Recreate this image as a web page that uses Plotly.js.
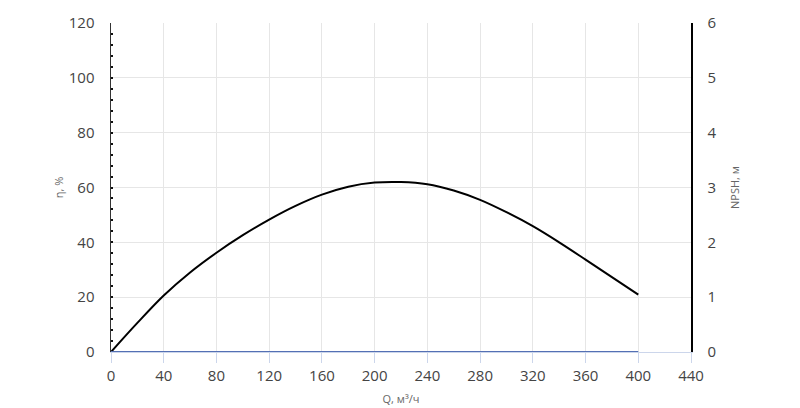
<!DOCTYPE html>
<html>
<head>
<meta charset="utf-8">
<script src="https://cdn.plot.ly/plotly-3.0.1.min.js"></script>
<style>html,body{margin:0;padding:0;background:#fff}#chart{width:800px;height:408px}</style>
</head>
<body>
<div id="chart"></div>
<script>
const flowQ = [0, 20, 40, 60, 80, 100, 120, 140, 160, 180, 200, 220, 240, 260, 280, 300, 320, 340, 360, 380, 400];
const efficiency = [0, 10.6, 20.6, 29.0, 36.2, 42.6, 48.3, 53.3, 57.4, 60.3, 61.8, 62.0, 61.2, 58.9, 55.5, 51.0, 45.9, 40.0, 33.7, 27.3, 20.9];
const npshQ = [0, 40, 80, 120, 160, 200, 240, 280, 320, 360, 400];
const npsh = [0, 0, 0, 0, 0, 0, 0, 0, 0, 0, 0];
const xTicks = [0, 40, 80, 120, 160, 200, 240, 280, 320, 360, 400, 440];

const font = "'Open Sans', 'DejaVu Sans', sans-serif";

const traces = [
  {x: npshQ, y: npsh, yaxis: 'y2', mode: 'lines', line: {color: '#5470b4', width: 2}, hoverinfo: 'skip'},
  {x: flowQ, y: efficiency, mode: 'lines', line: {color: '#000', width: 2, shape: 'spline', smoothing: 1}, hoverinfo: 'skip'}
];

const layout = {
  width: 800, height: 408,
  margin: {l: 111, r: 109, t: 23, b: 56},
  paper_bgcolor: '#fff', plot_bgcolor: '#fff',
  showlegend: false,
  font: {family: font, color: '#444'},
  xaxis: {
    range: [0, 440], tickvals: xTicks, ticktext: xTicks.map(String),
    showgrid: true, gridcolor: '#e6e6e6', gridwidth: 1,
    zeroline: false, showline: true, linecolor: '#ccd6eb', linewidth: 1,
    ticks: 'outside', ticklen: 10, tickcolor: '#ccd6eb', tickwidth: 1,
    tickfont: {size: 15, color: '#444'},
    title: {text: 'Q, м³/ч', font: {size: 11, color: '#666'}, standoff: 11}
  },
  yaxis: {
    range: [0, 120], dtick: 20,
    showgrid: true, gridcolor: '#e6e6e6', gridwidth: 1,
    zeroline: false, showline: true, linecolor: '#333', linewidth: 1.5,
    ticks: 'inside', ticklen: 2, tickwidth: 2, tickcolor: '#111',
    minor: {dtick: 4, ticks: 'inside', ticklen: 2, tickwidth: 2, tickcolor: '#111', showgrid: false},
    tickfont: {size: 15, color: '#444'},
    ticklabelstandoff: 12,
    title: {text: 'η, %', font: {size: 11, color: '#666'}, standoff: 3}
  },
  yaxis2: {
    range: [0, 6], dtick: 1, overlaying: 'y', side: 'right',
    showgrid: false, zeroline: false, showline: true, linecolor: '#000', linewidth: 1.5,
    ticks: '', tickfont: {size: 15, color: '#444'},
    ticklabelstandoff: 12,
    title: {text: 'NPSH, м', font: {size: 11, color: '#666'}, standoff: 16}
  }
};

Plotly.newPlot('chart', traces, layout, {staticPlot: true, displayModeBar: false});
</script>
</body>
</html>
